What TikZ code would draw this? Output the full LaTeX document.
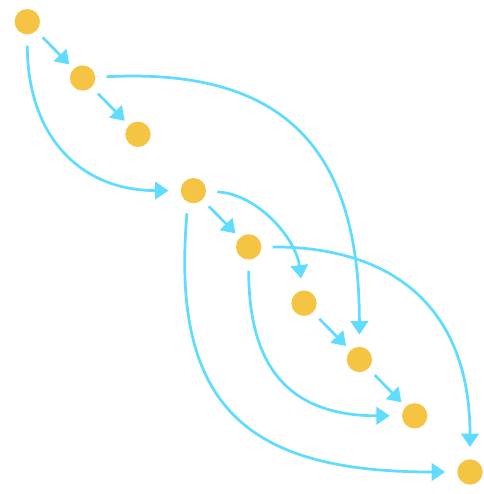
\documentclass[tikz,border=0pt]{standalone}
\usepackage{tikz}
\usetikzlibrary{arrows.meta, positioning}
\definecolor{DotGold}{RGB}{245,196,67}
\definecolor{EdgeCyan}{RGB}{95,220,255}

\begin{document}
\begin{tikzpicture}[
  x=0.75pt, y=-0.75pt,
  dot/.style={circle, fill=DotGold, minimum size=19pt, inner sep=0pt},
  link/.style={-{Triangle[length=10pt, width=13pt]}, draw=EdgeCyan, line width=2.05pt},
  hop/.style={link, shorten <=6.75pt, shorten >=4.5pt},
  bow/.style={link, shorten <=8.25pt, shorten >=9pt}
]
\useasboundingbox (0,0) rectangle (484,494);
\node[dot] (n1) at (27.3,21.7) {};
\node[dot] (n2) at (82.6,78.0) {};
\node[dot] (n3) at (138.0,134.3) {};
\node[dot] (n4) at (193.4,190.6) {};
\node[dot] (n5) at (248.7,246.9) {};
\node[dot] (n6) at (304.0,303.2) {};
\node[dot] (n7) at (359.4,359.5) {};
\node[dot] (n8) at (414.7,415.8) {};
\node[dot] (n9) at (470.0,472.0) {};
\draw[hop] (n1) -- (n2);
\draw[hop] (n2) -- (n3);
\draw[hop] (n4) -- (n5);
\draw[hop] (n6) -- (n7);
\draw[hop] (n7) -- (n8);
\draw[bow] (n1) to[out=-90, in=180, looseness=1.18] (n4);
\draw[bow] (n2) to[out=3, in=90, looseness=1.31] (n7);
\draw[bow] (n4) to[out=-3, in=97, looseness=0.96] (n6);
\draw[bow] (n4.-115) to[out=-95, in=180, looseness=1.39] (n9);
\draw[bow] (n5) to[out=-90, in=180, looseness=1.29] (n8);
\draw[bow] (n5) to[out=0, in=90, looseness=1.22] (n9);
\end{tikzpicture}
\end{document}
